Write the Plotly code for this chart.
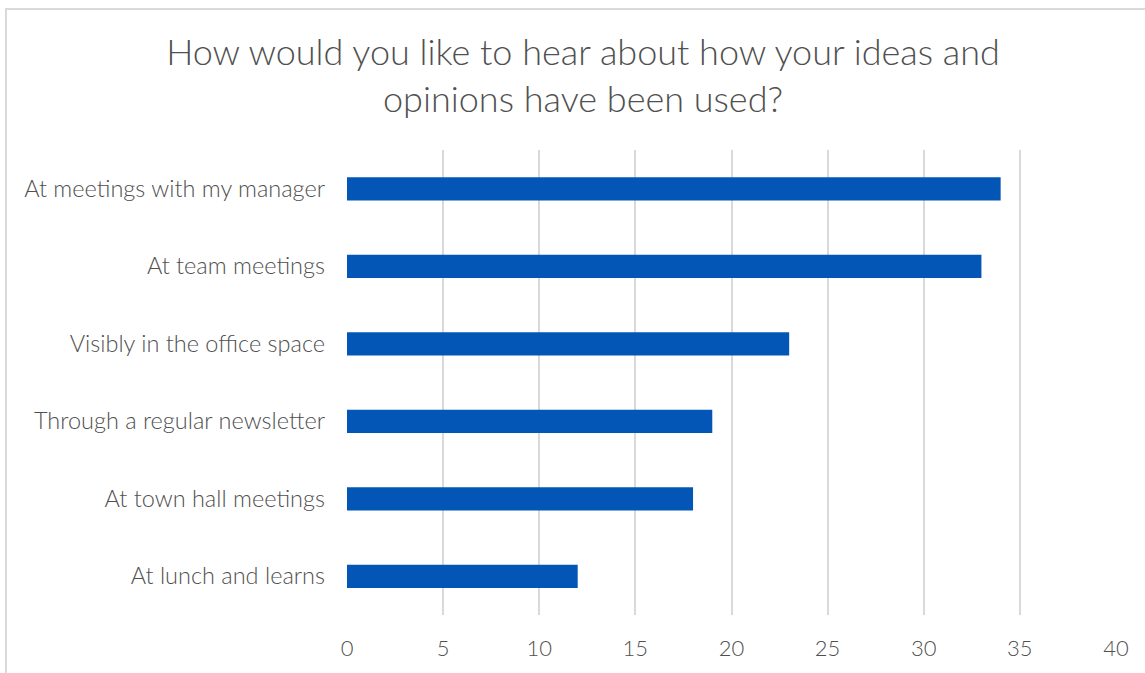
import plotly.graph_objects as go

categories = [
    "At meetings with my manager",
    "At team meetings",
    "Visibly in the office space",
    "Through a regular newsletter",
    "At town hall meetings",
    "At lunch and learns",
]
counts = [34, 33, 23, 19, 18, 12]
x_ticks = [0, 5, 10, 15, 20, 25, 30, 35, 40]

W, H = 1145, 673
ml, mr, mt, mb = 347, 29, 150, 55
pw, ph = W - ml - mr, H - mt - mb

def px_x(p):
    return (p - ml) / pw

def px_y(p):
    return 1 - (p - mt) / ph

FONT = "Lato Light, Lato"
TEXT = "#505050"

fig = go.Figure(
    go.Bar(
        y=categories,
        x=counts,
        orientation="h",
        width=0.3,
        marker=dict(color="#0356b6", line=dict(width=0)),
    )
)

fig.update_layout(
    width=W,
    height=H,
    margin=dict(l=ml, r=mr, t=mt, b=mb),
    paper_bgcolor="white",
    plot_bgcolor="white",
    font=dict(family=FONT, color=TEXT, weight=300),
    showlegend=False,
    title=dict(
        text="How would you like to hear about how your ideas and<br>opinions have been used?",
        x=583 / W,
        xanchor="center",
        y=1 - 65 / H,
        yanchor="middle",
        font=dict(size=36, color=TEXT, family=FONT, weight=300),
    ),
    xaxis=dict(
        range=[0, 40],
        tickvals=x_ticks,
        showgrid=True,
        gridcolor="#d9d9d9",
        gridwidth=2,
        zeroline=False,
        showline=False,
        tickfont=dict(size=22, color=TEXT, family=FONT, weight=300),
        ticklabelstandoff=18,
    ),
    yaxis=dict(
        categoryorder="array",
        categoryarray=categories[::-1],
        showgrid=False,
        zeroline=False,
        showline=False,
        tickfont=dict(size=23.5, color=TEXT, family=FONT, weight=300),
        ticklabelstandoff=21,
    ),
    shapes=[
        dict(
            type="rect",
            xref="paper",
            yref="paper",
            x0=px_x(6),
            x1=px_x(1160),
            y0=px_y(690),
            y1=px_y(8),
            line=dict(color="#d9d9d9", width=2),
            fillcolor="rgba(0,0,0,0)",
            layer="below",
        )
    ],
)

fig.write_html("out.html")
